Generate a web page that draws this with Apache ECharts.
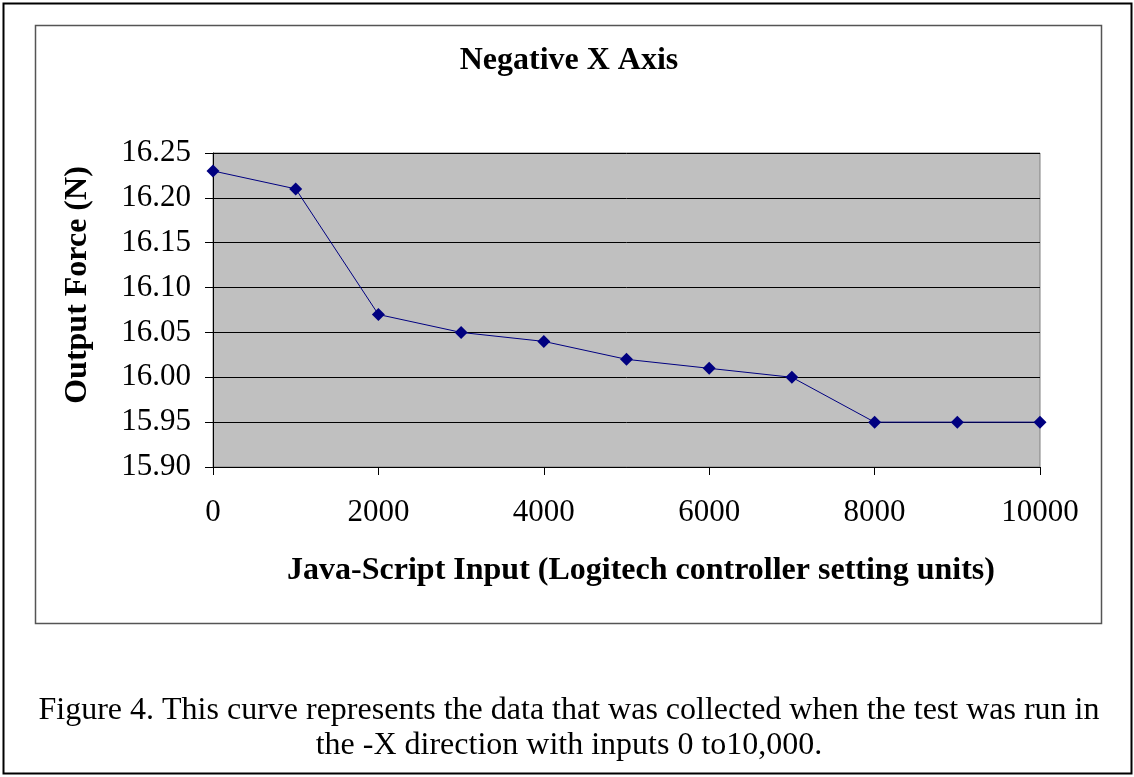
<!DOCTYPE html>
<html>
<head>
<meta charset="utf-8">
<script src="https://cdn.jsdelivr.net/npm/echarts@6/dist/echarts.min.js"></script>
<style>
html,body{margin:0;padding:0;background:#fff;}
#main{width:1134px;height:777px;}
</style>
</head>
<body>
<div id="main"></div>
<script>
const inputs = [0, 1000, 2000, 3000, 4000, 5000, 6000, 7000, 8000, 9000, 10000];
const forces = [16.23, 16.21, 16.07, 16.05, 16.04, 16.02, 16.01, 16.00, 15.95, 15.95, 15.95];
const chartTitle = 'Negative X Axis';
const xTitle = 'Java-Script Input (Logitech controller setting units)';
const yTitle = 'Output Force (N)';
const captionLines = [
  'Figure 4. This curve represents the data that was collected when the test was run in',
  'the -X direction with inputs 0 to10,000.'
];

const FONT = "'Liberation Serif', 'Times New Roman', serif";
const chart = echarts.init(document.getElementById('main'));
const pts = inputs.map((x, i) => [x, forces[i]]);

chart.setOption({
  animation: false,
  backgroundColor: '#ffffff',
  grid: {
    left: 213, top: 153, width: 827, height: 314,
    show: true, backgroundColor: '#C0C0C0', borderColor: '#808080', borderWidth: 1
  },
  xAxis: {
    type: 'value', min: 0, max: 10000, interval: 2000,
    axisLine: { show: true, onZero: false, lineStyle: { color: '#000', width: 1 } },
    axisTick: { show: true, inside: false, length: 8, lineStyle: { color: '#000' } },
    axisLabel: { color: '#000', fontFamily: FONT, fontSize: 31, margin: 30,
      formatter: v => String(v) },
    splitLine: { show: false }
  },
  yAxis: {
    type: 'value', min: 15.9, max: 16.25, interval: 0.05,
    axisLine: { show: true, lineStyle: { color: '#000', width: 1 } },
    axisTick: { show: true, inside: false, length: 8, lineStyle: { color: '#000' } },
    axisLabel: { color: '#000', fontFamily: FONT, fontSize: 31, margin: 22,
      formatter: v => v.toFixed(2) },
    splitLine: { show: true, lineStyle: { color: '#000', width: 1 } }
  },
  series: [{
    type: 'line',
    data: pts,
    symbol: 'diamond',
    symbolSize: 13,
    itemStyle: { color: '#000080' },
    lineStyle: { color: '#000080', width: 1 }
  }],
  graphic: [
    { type: 'rect', shape: { x: 3.5, y: 3.5, width: 1128, height: 770 }, style: { fill: 'none', stroke: '#000', lineWidth: 2 }, z: -10 },
    { type: 'rect', shape: { x: 35.5, y: 25.5, width: 1066, height: 598 }, style: { fill: 'none', stroke: '#555', lineWidth: 1.5 }, z: -10 },
    { type: 'text', x: 569, y: 61, style: { text: chartTitle, font: "bold 32px " + FONT, fill: '#000', textAlign: 'center', textVerticalAlign: 'middle' } },
    { type: 'text', x: 641, y: 571, style: { text: xTitle, font: "bold 32px " + FONT, fill: '#000', textAlign: 'center', textVerticalAlign: 'middle' } },
    { type: 'text', x: 78, y: 285, rotation: Math.PI / 2, style: { text: yTitle, font: "bold 32px " + FONT, fill: '#000', textAlign: 'center', textVerticalAlign: 'middle' } },
    { type: 'text', x: 569, y: 711, style: { text: captionLines[0], font: "32px " + FONT, fill: '#000', textAlign: 'center', textVerticalAlign: 'middle' } },
    { type: 'text', x: 569, y: 746, style: { text: captionLines[1], font: "32px " + FONT, fill: '#000', textAlign: 'center', textVerticalAlign: 'middle' } }
  ]
});
</script>
</body>
</html>
